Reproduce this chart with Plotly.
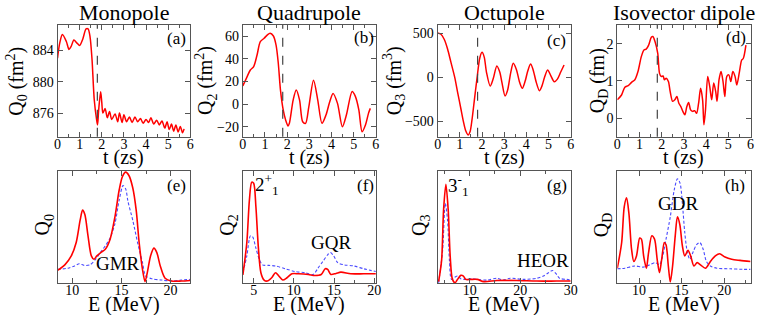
import plotly.graph_objects as go

# ---------------- data ----------------
T_CUT = 1.8  # dashed vertical line (zs)

# (a) Monopole
A_T = [0, 0.1, 0.22, 0.4, 0.52, 0.62, 0.74, 0.88, 1.0, 1.14, 1.29, 1.38, 1.47, 1.56, 1.66,
       1.77, 1.81, 1.86, 1.95, 2.0, 2.05, 2.15, 2.25, 2.35, 2.45, 2.6, 2.72, 2.8, 2.92, 3.0,
       3.12, 3.25, 3.37, 3.5, 3.62, 3.75, 3.87, 4.0, 4.12, 4.22, 4.35, 4.48, 4.6, 4.72, 4.85,
       4.95, 5.05, 5.15, 5.25, 5.35, 5.45, 5.55, 5.65, 5.72]
A_Q = [883.0, 884.9, 886.0, 885.1, 884.1, 884.5, 885.3, 884.9, 884.6, 885.4, 886.7, 886.7,
       885.7, 882.8, 877.7, 875.1, 874.5, 876.4, 878.7, 877.4, 876.0, 876.6, 875.4, 876.2,
       875.2, 875.9, 874.9, 876.0, 874.8, 875.8, 874.9, 875.5, 874.8, 875.5, 874.9, 875.3,
       874.7, 875.2, 874.8, 875.4, 874.6, 875.1, 874.5, 875.0, 874.1, 874.9, 873.9, 874.6,
       873.7, 874.5, 873.6, 874.3, 873.5, 874.0]

# (b) Quadrupole
B_T = [0.0, 0.19, 0.34, 0.49, 0.64, 0.79, 0.96, 1.11, 1.23, 1.38, 1.5, 1.6, 1.7, 1.82, 1.93,
       2.04, 2.1, 2.27, 2.41, 2.56, 2.7, 2.83, 2.98, 3.19, 3.38, 3.57, 3.75, 3.9, 4.07, 4.27,
       4.49, 4.67, 4.93, 5.08, 5.23, 5.38, 5.53, 5.67, 5.75]
B_Q = [16, 24, 30, 33, 43, 55, 58, 61, 62.4, 60, 52, 36, 12, -5, -14, -19.4, -17, 3.5, 12.4,
       3.5, -15.6, -17, -2, 21, 3.5, -17, -9.7, 0.6, 9.4, 0.6, -20, -9.7, 11, 6.5, -5, -24.4,
       -18.5, -8, -3.8]

# (c) Octupole
C_T = [0, 0.15, 0.3, 0.45, 0.6, 0.77, 0.9, 1.05, 1.16, 1.27, 1.38, 1.46, 1.55, 1.65, 1.78,
       1.9, 2.0, 2.1, 2.2, 2.37, 2.5, 2.67, 2.8, 2.9, 3.04, 3.15, 3.3, 3.41, 3.55, 3.7, 3.82,
       3.95, 4.05, 4.19, 4.3, 4.45, 4.59, 4.7, 4.82, 4.96, 5.1, 5.26, 5.4, 5.55, 5.7]
C_Q = [505, 490, 430, 320, 170, 0, -170, -360, -500, -610, -655, -620, -480, -270, 0, 220,
       284, 230, 60, -99, -20, 129, 60, -60, -212, -150, 60, 159, 90, -60, -125, -40, 60, 151,
       90, -60, -152, -100, 0, 83, 20, -50, -20, 60, 140]

# (d) Isovector dipole
D_T = [0, 0.19, 0.34, 0.49, 0.64, 0.79, 0.93, 1.08, 1.2, 1.3, 1.41, 1.53, 1.6, 1.7, 1.82,
       1.9, 1.97, 2.06, 2.12, 2.2, 2.3, 2.38, 2.49, 2.59, 2.68, 2.77, 2.86, 2.95, 3.04, 3.13,
       3.21, 3.3, 3.39, 3.48, 3.57, 3.66, 3.75, 3.84, 3.9, 3.97, 4.07, 4.16, 4.25, 4.34, 4.43,
       4.49, 4.58, 4.67, 4.76, 4.84, 4.93, 5.02, 5.11, 5.2, 5.3, 5.38, 5.5, 5.6, 5.67, 5.79]
D_Q = [0.49, 0.62, 0.83, 0.87, 0.96, 1.03, 1.25, 1.65, 1.83, 1.85, 1.96, 2.17, 2.19, 2.05,
       1.74, 1.2, 1.12, 1.13, 1.03, 1.07, 0.98, 0.71, 0.45, 0.49, 0.58, 0.4, 0.31, 0.18, 0.09,
       0.31, 0.42, 0.22, 0.18, 0.2, 0.13, 0.4, 0.8, 0.49, -0.18, 0.22, 1.12, 0.85, 0.49, 0.94,
       0.71, 0.45, 1.03, 1.25, 0.98, 0.58, 1.12, 1.16, 0.98, 1.25, 1.12, 0.89, 1.25, 1.56, 1.6,
       1.96]

# (e) Monopole strength
E_E_RED = [8.5, 9.24, 9.9, 10.4, 10.8, 11.05, 11.28, 11.6, 11.94, 12.2, 12.5, 12.9, 13.36,
           13.85, 14.34, 14.77, 15.1, 15.43, 15.76, 16.15, 16.5, 16.8, 17.14, 17.4, 17.63,
           17.96, 18.3, 18.6, 18.95, 19.44, 20.1, 21.1, 22.0]
E_S_RED = [0.11, 0.16, 0.24, 0.36, 0.56, 0.65, 0.61, 0.42, 0.24, 0.21, 0.24, 0.27, 0.30,
           0.39, 0.59, 0.83, 0.95, 0.99, 0.96, 0.85, 0.65, 0.36, 0.12, 0.01, 0.09, 0.24, 0.31,
           0.27, 0.15, 0.04, 0.015, 0.015, 0.02]
E_E_BLUE = [8.5, 9.57, 10.23, 10.72, 11.2, 11.8, 12.37, 12.86, 13.36, 13.85, 14.34, 14.77,
            15.16, 15.43, 15.66, 16.15, 16.64, 17.14, 17.47, 18.12, 19.1, 20.1, 21.1, 22.0]
E_S_BLUE = [0.12, 0.13, 0.15, 0.17, 0.155, 0.16, 0.21, 0.27, 0.33, 0.4, 0.53, 0.74, 0.87,
            0.84, 0.73, 0.56, 0.36, 0.18, 0.06, 0.035, 0.024, 0.015, 0.024, 0.03]

# (f) Quadrupole strength
F_E_RED = [3.66, 4.15, 4.47, 4.76, 5.0, 5.28, 5.57, 5.9, 6.3, 6.7, 7.24, 7.72, 8.13, 8.62,
           9.15, 9.76, 10.57, 11.8, 12.6, 13.4, 13.9, 14.2, 14.6, 15.24, 15.85, 17.07, 18.7, 20.2]
F_S_RED = [0.07, 0.36, 0.74, 0.9, 0.89, 0.68, 0.33, 0.09, 0.024, 0.015, 0.045, 0.09, 0.06,
           0.024, 0.045, 0.08, 0.08, 0.074, 0.065, 0.074, 0.125, 0.12, 0.074, 0.083, 0.095,
           0.08, 0.08, 0.08]
F_E_BLUE = [3.66, 4.15, 4.6, 4.88, 5.28, 5.7, 6.1, 6.9, 7.72, 8.94, 10.16, 11.38, 12.4, 13.0,
            13.6, 14.2, 14.55, 14.96, 15.45, 16.26, 17.48, 18.7, 20.2]
F_S_BLUE = [0.09, 0.24, 0.42, 0.41, 0.31, 0.21, 0.16, 0.155, 0.15, 0.125, 0.1, 0.09, 0.074,
            0.13, 0.19, 0.25, 0.27, 0.24, 0.18, 0.16, 0.15, 0.125, 0.1]

# (g) Octupole strength
G_E_RED = [3.86, 4.45, 4.84, 5.3, 5.76, 6.16, 6.6, 7.14, 7.6, 8.24, 8.77, 9.22, 10.2, 11.5,
           12.8, 15.4, 19.3, 23.3, 27.2, 30.0]
G_S_RED = [0.01, 0.2, 0.65, 0.88, 0.65, 0.23, 0.03, 0.0, 0.03, 0.066, 0.06, 0.03, 0.03,
           0.03, 0.01, 0.02, 0.02, 0.015, 0.015, 0.015]
G_E_BLUE = [3.86, 4.65, 5.18, 5.63, 6.0, 6.4, 7.05, 7.6, 8.24, 8.9, 10.2, 11.5, 13.5, 15.4,
            16.7, 18.0, 20.7, 23.3, 24.6, 25.6, 26.4, 27.2, 27.8, 29.2, 30.0]
G_S_BLUE = [0.0, 0.29, 0.71, 0.56, 0.2, 0.03, 0.05, 0.06, 0.036, 0.03, 0.036, 0.03, 0.024,
            0.04, 0.024, 0.04, 0.03, 0.04, 0.06, 0.09, 0.11, 0.075, 0.04, 0.03, 0.024]

# (h) Dipole strength
H_E_RED = [7.45, 7.96, 8.26, 8.54, 8.81, 9.12, 9.39, 9.7, 10.08, 10.28, 10.54, 10.86, 11.12,
           11.5, 11.82, 12.13, 12.4, 12.66, 12.97, 13.17, 13.44, 13.67, 13.94, 14.25, 14.51,
           14.79, 15.09, 15.37, 15.75, 16.06, 16.45, 16.83, 17.22, 17.8, 18.38, 18.96, 19.46,
           20.1, 20.88, 21.85, 23.1]
H_S_RED = [0.13, 0.36, 0.68, 0.76, 0.62, 0.3, 0.19, 0.24, 0.4, 0.39, 0.24, 0.13, 0.27, 0.42,
           0.39, 0.21, 0.09, 0.21, 0.36, 0.34, 0.15, 0.006, 0.15, 0.42, 0.59, 0.52, 0.33, 0.24,
           0.29, 0.24, 0.15, 0.18, 0.16, 0.13, 0.19, 0.24, 0.26, 0.23, 0.21, 0.2, 0.19]
H_E_BLUE = [7.45, 8.34, 9.5, 10.47, 11.24, 11.9, 12.4, 12.78, 13.17, 13.67, 14.13, 14.51,
            14.82, 15.09, 15.37, 15.68, 15.98, 16.37, 16.75, 17.14, 17.53, 17.92, 18.38, 19.15,
            20.7, 22.2, 23.1]
H_S_BLUE = [0.125, 0.13, 0.15, 0.14, 0.16, 0.18, 0.16, 0.24, 0.39, 0.59, 0.83, 0.93, 0.89,
            0.71, 0.45, 0.27, 0.21, 0.28, 0.34, 0.36, 0.3, 0.19, 0.15, 0.13, 0.125, 0.12, 0.12]

TITLES = ["Monopole", "Quadrupole", "Octupole", "Isovector dipole"]
TOP_YTITLES = ["Q<sub>0</sub> (fm<sup>2</sup>)", "Q<sub>2</sub> (fm<sup>2</sup>)",
               "Q<sub>3</sub> (fm<sup>3</sup>)", "Q<sub>D</sub> (fm)"]
BOT_YTITLES = ["Q<sub>0</sub>", "Q<sub>2</sub>", "Q<sub>3</sub>", "Q<sub>D</sub>"]
PANEL_TAGS = ["(a)", "(b)", "(c)", "(d)", "(e)", "(f)", "(g)", "(h)"]

# ---------------- layout helpers ----------------
W, H = 763, 315
FONT = "Liberation Serif, Times New Roman, serif"
RED = "#ff0000"
BLUE = "#4a4aff"
AXC = "#555555"


def px(x):
    return x / W


def py(y):
    return 1 - y / H


XDOM = [(54.3, 189.0), (242.3, 377.3), (440.0, 575.0), (622.3, 757.5)]
YTOP = (25.0, 136.7)
YBOT = (171.0, 283.3)

top_series = [(A_T, A_Q), (B_T, B_Q), (C_T, C_Q), (D_T, D_Q)]
bot_series = [(E_E_RED, E_S_RED, E_E_BLUE, E_S_BLUE), (F_E_RED, F_S_RED, F_E_BLUE, F_S_BLUE),
              (G_E_RED, G_S_RED, G_E_BLUE, G_S_BLUE), (H_E_RED, H_S_RED, H_E_BLUE, H_S_BLUE)]

top_yrange = [(873.0, 887.2), (-28.8, 69.7), (-675, 595), (-0.5, 2.5)]
top_ytick = [4, 20, 500, 1]
bot_xrange = [(8.5, 22.0), (3.65, 20.2), (3.67, 30.0), (7.45, 23.1)]
bot_xtick = [5, 5, 10, 5]

fig = go.Figure()
layout = dict(width=W, height=H, autosize=False, margin=dict(l=0, r=0, t=0, b=0, pad=0),
              paper_bgcolor="white", plot_bgcolor="white", showlegend=False,
              font=dict(family=FONT, color="black"))
annotations = []
shapes = []

axis_common = dict(showline=True, linecolor=AXC, linewidth=1, mirror="ticks",
                   ticks="inside", ticklen=5, tickcolor=AXC, showgrid=False, zeroline=False,
                   tickfont=dict(family=FONT, size=14, color="black"))

for i in range(4):
    n = i + 1
    xa = "xaxis" if n == 1 else f"xaxis{n}"
    ya = "yaxis" if n == 1 else f"yaxis{n}"
    xr = "x" if n == 1 else f"x{n}"
    yr = "y" if n == 1 else f"y{n}"
    t, q = top_series[i]
    fig.add_trace(go.Scatter(x=t, y=q, mode="lines", xaxis=xr, yaxis=yr,
                             line=dict(color=RED, width=1.5, shape="spline", smoothing=0.8)))
    layout[xa] = dict(axis_common, domain=[px(XDOM[i][0]), px(XDOM[i][1])], anchor=yr,
                      range=[0, 6], dtick=1, tick0=0, ticklabelstandoff=-6,
                      minor=dict(ticks="inside", ticklen=3, dtick=0.5, tickcolor=AXC))
    layout[ya] = dict(axis_common, domain=[py(YTOP[1]), py(YTOP[0])], anchor=xr,
                      range=list(top_yrange[i]), dtick=top_ytick[i])
    shapes.append(dict(type="line", xref=xr, yref=f"{yr} domain", x0=T_CUT, x1=T_CUT, y0=0, y1=1,
                       line=dict(color="#444444", width=1.2, dash="dash")))

    m = i + 5
    xb = f"xaxis{m}"
    yb = f"yaxis{m}"
    xbr = f"x{m}"
    ybr = f"y{m}"
    er, sr, eb, sb = bot_series[i]
    fig.add_trace(go.Scatter(x=eb, y=sb, mode="lines", xaxis=xbr, yaxis=ybr,
                             line=dict(color=BLUE, width=1.1, dash="3px,2px", shape="spline",
                                       smoothing=0.8)))
    fig.add_trace(go.Scatter(x=er, y=sr, mode="lines", xaxis=xbr, yaxis=ybr,
                             line=dict(color=RED, width=1.6, shape="spline", smoothing=0.8)))
    layout[xb] = dict(axis_common, domain=[px(XDOM[i][0]), px(XDOM[i][1])], anchor=ybr,
                      range=list(bot_xrange[i]), dtick=bot_xtick[i], tick0=0,
                      ticklabelstandoff=-6,
                      minor=dict(ticks="inside", ticklen=3, dtick=bot_xtick[i] / 2,
                                 tickcolor=AXC))
    layout[yb] = dict(axis_common, domain=[py(YBOT[1]), py(YBOT[0])], anchor=xbr,
                      range=[-0.005, 1.0], showticklabels=False, ticks="")

    xc = (XDOM[i][0] + XDOM[i][1]) / 2
    annotations.append(dict(text=TITLES[i], x=px(xc), y=py(13), xref="paper", yref="paper",
                            showarrow=False, xanchor="center", yanchor="middle",
                            font=dict(family=FONT, size=22, color="black")))
    annotations.append(dict(text="t (zs)", x=px(xc), y=py(157), xref="paper", yref="paper",
                            showarrow=False, xanchor="center", yanchor="middle",
                            font=dict(family=FONT, size=20, color="black")))
    annotations.append(dict(text="E (MeV)", x=px(xc), y=py(304), xref="paper", yref="paper",
                            showarrow=False, xanchor="center", yanchor="middle",
                            font=dict(family=FONT, size=20, color="black")))

TOP_YT_X = [13, 205, 396, 604]
BOT_YT_X = [40, 227, 422, 607]
for i in range(4):
    annotations.append(dict(text=TOP_YTITLES[i], x=px(TOP_YT_X[i]), y=py(81), xref="paper",
                            yref="paper", showarrow=False, textangle=-90,
                            xanchor="center", yanchor="middle",
                            font=dict(family=FONT, size=20, color="black")))
    annotations.append(dict(text=BOT_YTITLES[i], x=px(BOT_YT_X[i]), y=py(225), xref="paper",
                            yref="paper", showarrow=False, textangle=-90,
                            xanchor="center", yanchor="middle",
                            font=dict(family=FONT, size=20, color="black")))

TAG_POS = [(175, 38), (365, 37), (561, 40), (743, 37), (175, 185), (367, 185), (561, 185),
           (742, 185)]
for tag, (x, y) in zip(PANEL_TAGS, TAG_POS):
    annotations.append(dict(text=tag, x=px(x), y=py(y), xref="paper", yref="paper",
                            showarrow=False, xanchor="center", yanchor="middle",
                            font=dict(family=FONT, size=17, color="black")))

LABELS = [("GMR", 116, 263), ("2<sup>+</sup><sub>1</sub>", 267, 184), ("GQR", 332, 242),
          ("3<sup>-</sup><sub>1</sub>", 461, 185), ("HEOR", 547, 260), ("GDR", 684, 203)]
for txt, x, y in LABELS:
    annotations.append(dict(text=txt, x=px(x), y=py(y), xref="paper", yref="paper",
                            showarrow=False, xanchor="center", yanchor="middle",
                            font=dict(family=FONT, size=19, color="black")))

layout["annotations"] = annotations
layout["shapes"] = shapes
fig.update_layout(**layout)
fig.write_html("out.html", config={"displayModeBar": False},
               post_script="document.body.style.margin='0';document.body.style.padding='0';"
                           "document.body.style.overflow='hidden';")
